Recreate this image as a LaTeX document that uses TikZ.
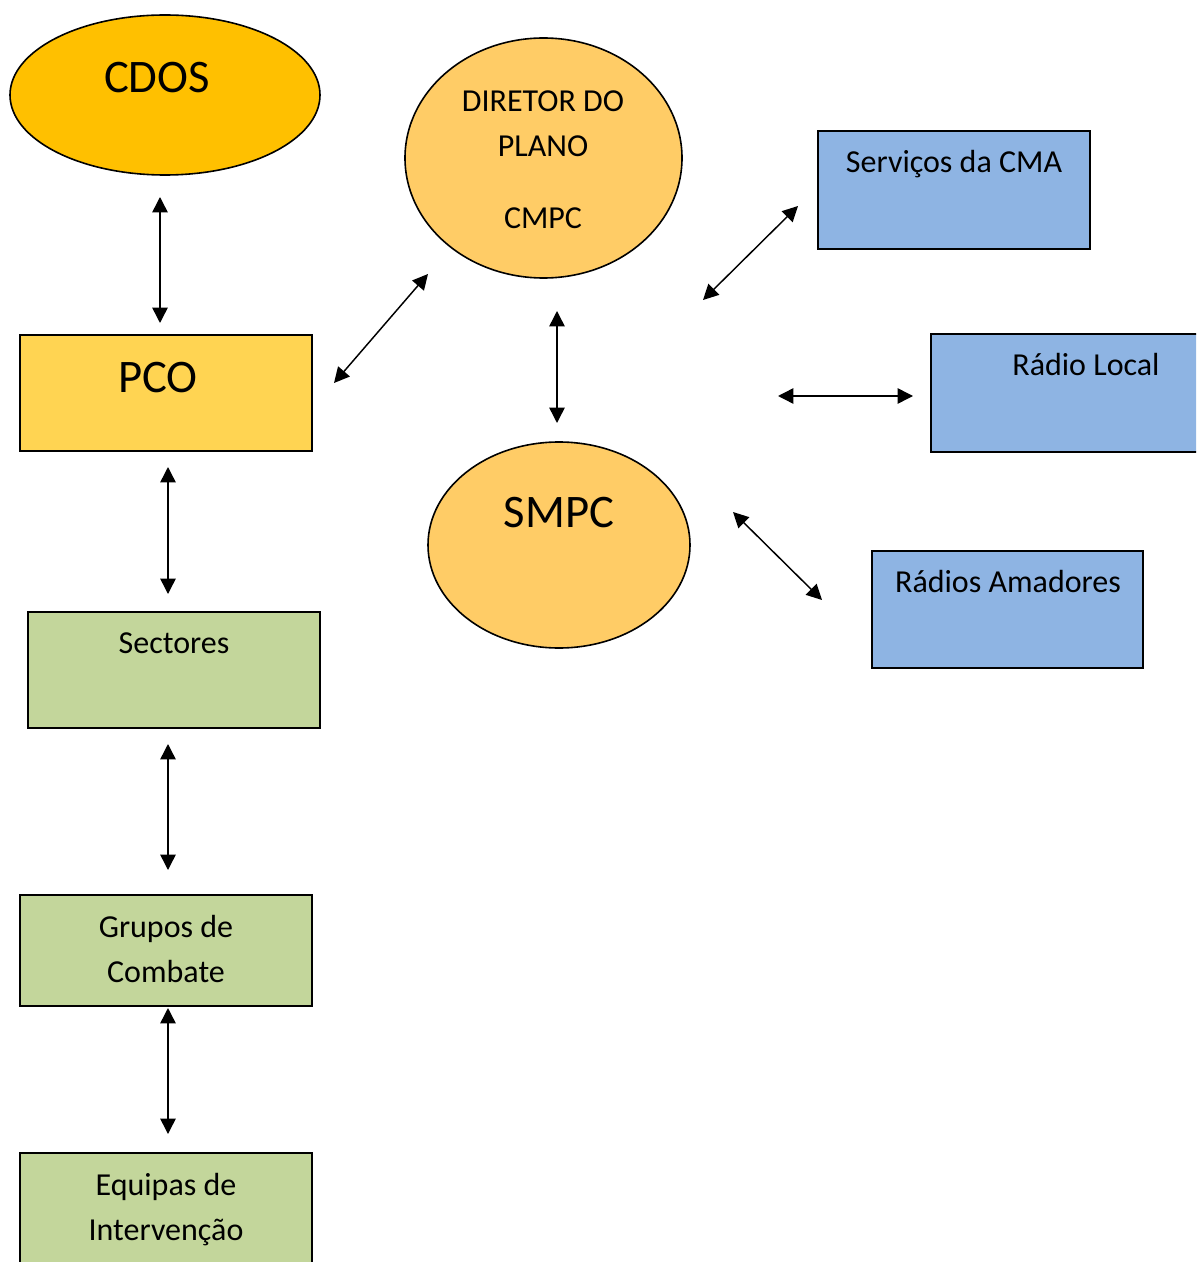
\documentclass[tikz,border=0pt]{standalone}
\usepackage{fontspec}
\setmainfont{Carlito}
\usetikzlibrary{arrows.meta,shapes.geometric}

\definecolor{gold}{HTML}{FFC000}
\definecolor{lightorange}{HTML}{FFCC66}
\definecolor{pcoyellow}{HTML}{FFD452}
\definecolor{skyblue}{HTML}{8EB4E3}
\definecolor{olivegreen}{HTML}{C3D69B}

\tikzset{
  shapebox/.style={draw=black, line width=1.2pt, inner sep=0pt},
  ovalnode/.style={shapebox, ellipse},
  rectnode/.style={shapebox, rectangle},
  txt/.style={anchor=base, inner sep=0pt, font=\fontsize{24}{29}\selectfont},
  bigtxt/.style={anchor=base, inner sep=0pt, font=\fontsize{35}{42}\selectfont},
  link/.style={line width=1.1pt, {Triangle[length=11.5pt,width=11.5pt]}-{Triangle[length=11.5pt,width=11.5pt]}}
}

\begin{document}
\begin{tikzpicture}[x=0.75pt, y=-0.75pt]
\useasboundingbox (0,0) rectangle (1196,1262);
\clip (0,0) rectangle (1196,1262);

% command chain ovals
\node[ovalnode, fill=gold, minimum width=232.5pt, minimum height=120pt] (cdos) at (165,95) {};
\node[ovalnode, fill=lightorange, minimum width=207.75pt, minimum height=180pt] (diretor) at (543.5,158) {};
\node[ovalnode, fill=lightorange, minimum width=196.5pt, minimum height=154.5pt] (smpc) at (559,545) {};

% external communication boxes
\node[rectnode, fill=skyblue, minimum width=204pt, minimum height=88.5pt] (servicos) at (954,190) {};
\node[rectnode, fill=skyblue, minimum width=205.5pt, minimum height=88.5pt] (radiolocal) at (1068,393) {};
\node[rectnode, fill=skyblue, minimum width=203.25pt, minimum height=87.75pt] (amadores) at (1007.5,609.5) {};

% operational chain boxes
\node[rectnode, fill=pcoyellow, minimum width=219pt, minimum height=87pt] (pco) at (166,393) {};
\node[rectnode, fill=olivegreen, minimum width=219pt, minimum height=87pt] (sectores) at (174,670) {};
\node[rectnode, fill=olivegreen, minimum width=219pt, minimum height=83.25pt] (grupos) at (166,950.5) {};
\node[rectnode, fill=olivegreen, minimum width=219pt, minimum height=87.75pt] (equipas) at (166,1211.5) {};

% labels
\node[bigtxt] (tcdos) at (157,93) {CDOS};
\node[txt] (tdir1) at (543,112) {DIRETOR DO};
\node[txt] (tdir2) at (543,157) {PLANO};
\node[txt] (tdir3) at (543,229) {CMPC};
\node[bigtxt] (tsmpc) at (559,527) {SMPC};
\node[txt] (tserv) at (954,173) {Serviços da CMA};
\node[txt] (tradio) at (1086,375) {Rádio Local};
\node[txt] (tamad) at (1008,592) {Rádios Amadores};
\node[bigtxt] (tpco) at (158,392) {PCO};
\node[txt] (tsect) at (174,653) {Sectores};
\node[txt] (tgrp1) at (166,937) {Grupos de};
\node[txt] (tgrp2) at (166,982) {Combate};
\node[txt] (teq1) at (166,1195) {Equipas de};
\node[txt] (teq2) at (166,1240) {Intervenção};

% arrow end points
\coordinate (cdosS) at (160,197);
\coordinate (pcoN) at (160,323);
\coordinate (pcoE) at (334,383);
\coordinate (dirSW) at (428,274);
\coordinate (dirS) at (557,311);
\coordinate (smpcN) at (557,423);
\coordinate (dirSE) at (703,300);
\coordinate (servSW) at (798,206);
\coordinate (midE) at (778,396);
\coordinate (radioW) at (913,396);
\coordinate (smpcE) at (733,512);
\coordinate (amadW) at (822,600);
\coordinate (pcoS) at (168,467);
\coordinate (sectN) at (168,594);
\coordinate (sectS) at (168,744);
\coordinate (grpN) at (168,870);
\coordinate (grpS) at (168,1008);
\coordinate (eqN) at (168,1134);

% connectors
\draw[link] (cdosS) -- (pcoN);
\draw[link] (pcoE) -- (dirSW);
\draw[link] (dirS) -- (smpcN);
\draw[link] (dirSE) -- (servSW);
\draw[link] (midE) -- (radioW);
\draw[link] (smpcE) -- (amadW);
\draw[link] (pcoS) -- (sectN);
\draw[link] (sectS) -- (grpN);
\draw[link] (grpS) -- (eqN);
\end{tikzpicture}
\end{document}
